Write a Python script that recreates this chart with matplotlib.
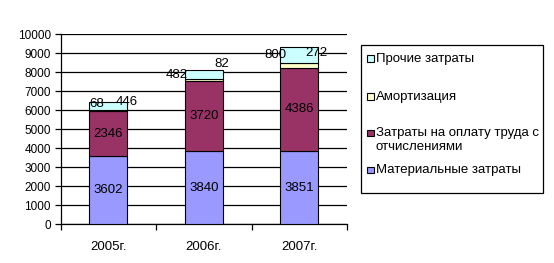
import matplotlib
matplotlib.use("Agg")
import matplotlib.pyplot as plt
from matplotlib.patches import Rectangle
import numpy as np

plt.rcParams['font.family'] = ['Liberation Sans', 'DejaVu Sans']

years = ["2005г.", "2006г.", "2007г."]
material = [3602, 3840, 3851]
labor = [2346, 3720, 4386]
amort = [68, 82, 272]
other = [446, 482, 800]

series_names = ["Материальные затраты", "Затраты на оплату труда с\nотчислениями",
                "Амортизация", "Прочие затраты"]
colors = ["#9999FF", "#993366", "#FFFFCC", "#CCFFFF"]
yticks = [0, 1000, 2000, 3000, 4000, 5000, 6000, 7000, 8000, 9000, 10000]

W, H = 554, 263
fig = plt.figure(figsize=(W / 100, H / 100), dpi=100)
fig.patch.set_facecolor("white")

def fx(px):
    return px / W

def fy(py):
    return 1 - py / H

ax = fig.add_axes([fx(60.5), fy(224.3), fx(347) - fx(60.5), fy(34.3) - fy(224.3)])
x = np.arange(len(years))
width = 0.4
data = [material, labor, amort, other]
bottom = np.zeros(len(years))
for vals, c in zip(data, colors):
    ax.bar(x, vals, width, bottom=bottom, color=c, edgecolor="black", linewidth=0.8, zorder=3)
    bottom = bottom + np.array(vals)

for i in range(len(years)):
    ax.text(x[i], material[i] / 2, str(material[i]), ha="center", va="center", fontsize=9.5, zorder=4)
    ax.text(x[i], material[i] + labor[i] / 2, str(labor[i]), ha="center", va="center", fontsize=9.5, zorder=4)

# labels of the thin top segments, placed near the bar top (offsets in pixels)
tops = bottom
amort_off = [(-12, -2.5), (18, 6), (17, -5.6)]
other_off = [(18, 0), (-26.5, -5), (-24, -7.6)]
for i in range(len(years)):
    ax.annotate(str(amort[i]), (x[i], tops[i]), xytext=amort_off[i], textcoords="offset pixels",
                ha="center", va="center", fontsize=9.5, zorder=5, annotation_clip=False)
    ax.annotate(str(other[i]), (x[i], tops[i]), xytext=other_off[i], textcoords="offset pixels",
                ha="center", va="center", fontsize=9.5, zorder=5, annotation_clip=False)

ax.set_xlim(-0.5, 2.5)
ax.set_ylim(0, 10000)
ax.set_yticks(yticks)
ax.set_yticklabels([str(v) for v in yticks], fontsize=8.5)
ax.yaxis.grid(True, color="black", linewidth=0.9, zorder=0)
ax.set_axisbelow(True)
ax.set_xticks(x)
ax.set_xticklabels(years, fontsize=9.5)
ax.tick_params(axis="x", which="major", length=0, pad=12)
ax.set_xticks([-0.5, 0.5, 1.5, 2.5], minor=True)
ax.tick_params(axis="x", which="minor", length=4, width=0.9, direction="out")
ax.tick_params(axis="y", length=4, width=0.9, direction="out", pad=3)
for s in ["top", "right"]:
    ax.spines[s].set_visible(False)
ax.spines["left"].set_linewidth(0.9)
ax.spines["bottom"].set_linewidth(0.9)

# legend box (drawn in figure pixels)
lx0, ly0, lx1, ly1 = 360.5, 45, 543, 193
fig.patches.append(Rectangle((fx(lx0), fy(ly1)), fx(lx1) - fx(lx0), fy(ly0) - fy(ly1),
                             transform=fig.transFigure, facecolor="white", edgecolor="black",
                             linewidth=0.9))
legend_order = [3, 2, 1, 0]
entry_y = [59, 97, 133, 170]
line_step = 13.7
for k, yy in zip(legend_order, entry_y):
    fig.patches.append(Rectangle((fx(367), fy(yy + 3)), fx(6.5), fy(0) - fy(6.5),
                                 transform=fig.transFigure, facecolor=colors[k],
                                 edgecolor="black", linewidth=0.8))
    for j, line in enumerate(series_names[k].split("\n")):
        fig.text(fx(375.5), fy(yy + j * line_step), line, ha="left", va="center", fontsize=9.5)

fig.savefig("out.png", dpi=100)
